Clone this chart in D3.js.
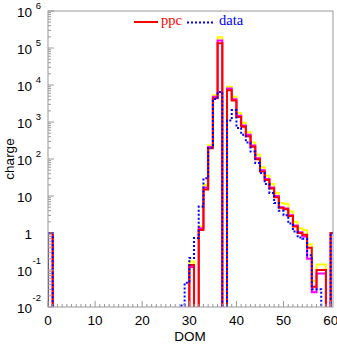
<!DOCTYPE html>
<html><head><meta charset="utf-8">
<script src="https://cdn.jsdelivr.net/npm/d3@7"></script>
<style>body{margin:0;background:#fff;} svg{display:block;}</style>
</head><body>
<svg id="c" width="337" height="344"></svg>
<script>
// DOM bins (bin k spans [k, k+1])
const dom = [0,1,2,3,4,5,6,7,8,9,10,11,12,13,14,15,16,17,18,19,20,21,22,23,24,25,26,27,28,29,30,31,32,33,34,35,36,37,38,39,40,41,42,43,44,45,46,47,48,49,50,51,52,53,54,55,56,57,58,59,60];
// ppc median (red)
const ppcMedian = [1,0,0,0,0,0,0,0,0,0,0,0,0,0,0,0,0,0,0,0,0,0,0,0,0,0,0,0,0,0,
  0.136,0,1.2,15,195,4400,135000,0,7200,3800,1360,740,415,214,98,46,27,16,9.2,4.8,4.4,2.9,1.5,1.0,0.9,0.4,0.035,0.1,0.1,0,1];
// ppc upper band (yellow)
const ppcUpper = [1,0,0,0,0,0,0,0,0,0,0,0,0,0,0,0,0,0,0,0,0,0,0,0,0,0,0,0,0,0,
  0.17,0,1.5,20,235,5300,195000,0,9000,4800,1750,950,530,280,130,60,35,21,12,6.5,6.2,3.8,2.0,1.35,1.2,0.5,0.05,0.14,0.14,0,1];
// ppc inner band (magenta)
const ppcInner = [1,0,0,0,0,0,0,0,0,0,0,0,0,0,0,0,0,0,0,0,0,0,0,0,0,0,0,0,0,0,
  0.12,0,1.35,17,210,4800,160000,0,8000,4100,1480,800,450,230,105,50,29,17,10,5.0,4.6,3.0,1.6,1.05,0.8,0.2,0.025,0.08,0.08,0,1];
// observed data (blue dotted)
const dataCharge = [1,0,0,0,0,0,0,0,0,0,0,0,0,0,0,0,0,0,0,0,0,0,0,0,0,0,0,0,0.011,0.045,
  0.21,0.73,5.2,30,200,4200,6500,0,1100,2100,690,450,280,160,78,42,21,12,6.5,4.0,3.0,1.8,1.1,0.75,0.7,0.25,0.03,0.03,0,0,1];
const xTickValues = [0,10,20,30,40,50,60];
const yTickExponents = [-2,-1,0,1,2,3,4,5,6];
const legendLabels = ["ppc","data"];

const L=48, R=333, T=11, B=307;
const svg = d3.select("#c");
const x = d3.scaleLinear().domain([0,60.5]).range([L,R]);
const y = d3.scaleLog().domain([1e-2,1e6]).range([B,T]);
const axisColor = "#999";

svg.append("defs").append("clipPath").attr("id","clip")
  .append("rect").attr("x",L).attr("y",T).attr("width",R-L).attr("height",B-T);

function yv(v){ return v>0 ? Math.min(y(v), B+10) : B+10; }
function stepPath(vals){
  const pts = [[x(dom[0]), B+10]];
  vals.forEach((v,i)=>pts.push([x(dom[i]), yv(v)]));
  const last = dom[dom.length-1]+1;
  pts.push([x(last), yv(vals[vals.length-1])]);
  pts.push([x(last), B+10]);
  return d3.line().curve(d3.curveStepAfter)(pts);
}

const g = svg.append("g").attr("clip-path","url(#clip)");
g.append("path").attr("d",stepPath(ppcUpper)).attr("fill","none").attr("stroke","#ffff00").attr("stroke-width",2);
g.append("path").attr("d",stepPath(ppcInner)).attr("fill","none").attr("stroke","#ff00ff").attr("stroke-width",2);
g.append("path").attr("d",stepPath(ppcMedian)).attr("fill","none").attr("stroke","#ff0000").attr("stroke-width",2);
g.append("path").attr("d",stepPath(dataCharge)).attr("fill","none").attr("stroke","#0000ff").attr("stroke-width",2).attr("stroke-dasharray","2,2");

// frame
svg.append("rect").attr("x",L).attr("y",T).attr("width",R-L).attr("height",B-T)
  .attr("fill","none").attr("stroke",axisColor).attr("stroke-width",1);

// y ticks
const yt = svg.append("g");
yTickExponents.forEach(e=>{
  const yy = y(Math.pow(10,e));
  yt.append("line").attr("x1",L).attr("x2",L+6).attr("y1",yy).attr("y2",yy).attr("stroke",axisColor);
  if(e<6){
    for(let m=2;m<=9;m++){
      const ym = y(m*Math.pow(10,e));
      yt.append("line").attr("x1",L).attr("x2",L+3).attr("y1",ym).attr("y2",ym).attr("stroke",axisColor);
    }
  }
  const f = "Liberation Sans, Arial, sans-serif";
  if(e===0){
    yt.append("text").attr("x",32).attr("y",yy+5.5).attr("text-anchor","end").attr("font-family",f).attr("font-size",13.5).text("1");
  } else if(e===1){
    yt.append("text").attr("x",32).attr("y",yy+5.5).attr("text-anchor","end").attr("font-family",f).attr("font-size",13.5).text("10");
  } else {
    yt.append("text").attr("x",32).attr("y",yy+5.5).attr("text-anchor","end").attr("font-family",f).attr("font-size",13.5).text("10");
    yt.append("text").attr("x",41).attr("y",yy+(e<0?-6:-2.5)).attr("text-anchor","end").attr("font-family",f).attr("font-size",9.5).text(String(e));
  }
});

// x ticks
const xt = svg.append("g");
for(let k=0;k<=60;k++){
  const xx = x(k);
  const major = k%10===0;
  xt.append("line").attr("x1",xx).attr("x2",xx).attr("y1",B).attr("y2",B-(major?6:3)).attr("stroke",axisColor);
}
xTickValues.forEach(v=>{
  xt.append("text").attr("x",x(v)).attr("y",325).attr("text-anchor","middle")
    .attr("font-family","Liberation Sans, Arial, sans-serif").attr("font-size",13.5).text(v);
});

// axis titles
svg.append("text").attr("x",190).attr("y",341).attr("text-anchor","middle")
  .attr("font-family","Liberation Sans, Arial, sans-serif").attr("font-size",13.5).text("DOM");
svg.append("text").attr("transform","translate(14,159) rotate(-90)").attr("text-anchor","middle")
  .attr("font-family","Liberation Sans, Arial, sans-serif").attr("font-size",13.5).text("charge");

// legend
const lg = svg.append("g");
lg.append("line").attr("x1",134).attr("x2",158).attr("y1",22).attr("y2",22).attr("stroke","#ff0000").attr("stroke-width",2);
lg.append("text").attr("x",161).attr("y",25).attr("font-family","Liberation Serif, Times New Roman, serif").attr("font-size",14.5).attr("fill","#ff0000").text(legendLabels[0]);
lg.append("line").attr("x1",187).attr("x2",213).attr("y1",22.5).attr("y2",22.5).attr("stroke","#0000ff").attr("stroke-width",2).attr("stroke-dasharray","2,2");
lg.append("text").attr("x",219).attr("y",25).attr("font-family","Liberation Serif, Times New Roman, serif").attr("font-size",14.5).attr("fill","#0000ff").text(legendLabels[1]);
</script>
</body></html>
